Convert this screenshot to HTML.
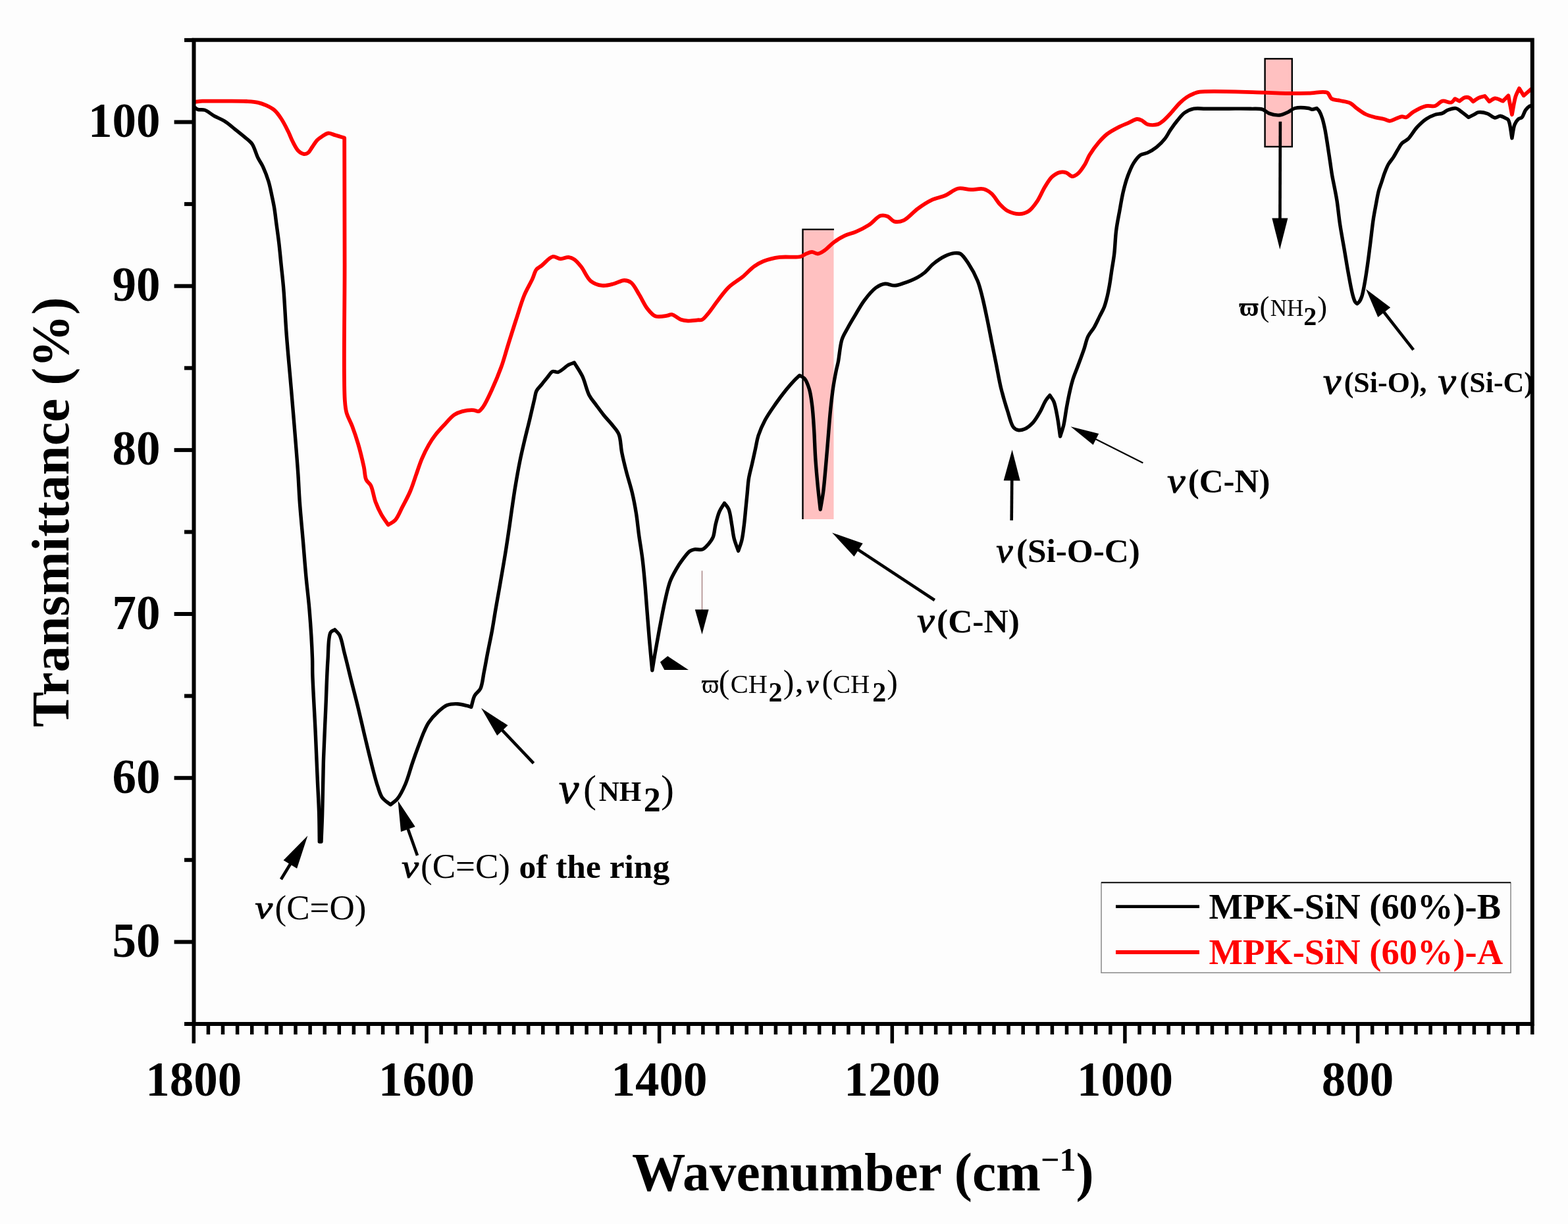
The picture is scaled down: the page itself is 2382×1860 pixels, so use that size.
<!DOCTYPE html><html><head><meta charset="utf-8"><title>FTIR spectrum</title>
<style>html,body{margin:0;padding:0;background:#fff;}body{width:2382px;height:1860px;overflow:hidden;}svg{display:block;}text{font-family:"Liberation Serif","Times New Roman",serif;}</style></head><body>
<svg width="2382" height="1860" viewBox="0 0 2382 1860">
<rect width="2382" height="1860" fill="#fdfdfd"/>
<rect x="1219.5" y="348.6" width="47" height="440.4" fill="#ffc1c1"/>
<path d="M1219.5,789 V348.6 H1267" fill="none" stroke="#000" stroke-width="2.4"/>
<rect x="1921.6" y="89.3" width="41.2" height="133.6" fill="#ffc1c1" stroke="#000" stroke-width="2.4"/>
<path d="M295.3,162.9 C297.1,164.1 298.4,165.6 300.6,166.4 C303.4,167.4 307.5,166.1 311.1,167.3 C315.6,168.8 320.3,173.4 325.2,176.1 C330.3,178.9 335.9,180.8 341.0,184.0 C346.5,187.4 351.4,191.9 356.9,196.3 C363.1,201.2 371.4,207.8 376.2,212.1 C379.2,214.8 381.1,215.9 383.3,219.2 C386.6,224.2 389.1,234.3 392.1,240.3 C394.4,245.0 396.8,247.8 399.1,252.6 C402.1,259.0 405.5,267.8 407.9,275.5 C410.2,283.1 411.7,291.3 413.2,298.4 C414.5,304.6 415.6,309.5 416.7,316.0 C418.0,323.9 419.0,333.6 420.2,342.4 C421.4,351.2 422.6,359.4 423.7,368.8 C425.0,379.7 426.1,392.3 427.3,404.0 C428.5,415.7 429.7,425.4 430.8,439.1 C432.4,458.2 433.5,485.7 435.2,508.0 C436.8,529.1 438.7,549.1 440.5,569.6 C442.3,590.1 444.0,608.8 445.8,631.2 C448.0,658.1 451.2,695.9 452.8,720.0 C453.9,736.5 454.1,746.4 455.2,761.6 C456.5,780.1 458.8,803.5 460.5,823.2 C462.0,841.5 463.3,858.4 464.9,876.0 C466.5,893.6 468.7,909.9 470.2,928.8 C472.0,950.7 473.9,982.5 474.5,1000.0 C474.9,1010.3 474.5,1013.8 474.8,1024.4 C475.4,1044.1 477.7,1081.6 479.0,1108.8 C480.2,1134.2 481.2,1160.1 482.2,1182.6 C483.0,1201.6 484.1,1218.3 484.6,1235.0 C485.1,1250.3 485.1,1264.3 485.3,1279.0 C486.2,1279.0 487.1,1279.0 488.0,1279.0 C488.5,1265.3 489.2,1252.5 489.6,1238.0 C490.1,1221.5 490.4,1200.7 490.8,1185.0 C491.1,1172.4 491.1,1164.5 491.6,1151.0 C492.3,1131.1 493.7,1101.6 494.8,1077.0 C495.9,1052.4 496.5,1024.4 498.0,1003.3 C499.1,987.3 498.3,967.6 502.2,961.1 C503.9,958.4 506.4,958.3 508.5,956.9 C511.0,959.7 513.8,961.4 515.9,965.3 C519.3,971.6 520.7,982.6 523.3,992.7 C526.6,1005.3 530.3,1020.9 533.8,1035.0 C537.3,1049.1 541.1,1063.3 544.4,1077.1 C547.6,1090.3 550.4,1102.9 553.5,1116.0 C556.7,1129.2 559.8,1142.8 563.2,1156.0 C566.5,1169.0 570.2,1184.4 573.7,1194.7 C576.1,1201.8 577.4,1207.5 580.8,1212.3 C584.0,1216.7 589.0,1219.3 593.1,1222.8 C596.6,1219.9 600.3,1218.0 603.6,1214.0 C608.1,1208.5 612.4,1199.6 616.0,1191.2 C620.1,1181.7 623.1,1169.4 626.5,1159.5 C629.5,1150.7 632.3,1142.8 635.3,1134.8 C638.2,1127.0 641.2,1118.6 644.1,1112.0 C646.5,1106.7 648.1,1102.5 651.2,1097.9 C654.8,1092.5 660.3,1086.5 665.2,1082.0 C669.7,1077.9 674.2,1073.5 679.3,1071.5 C684.2,1069.6 690.0,1069.5 695.1,1069.7 C699.9,1069.9 705.4,1071.4 709.2,1072.4 C711.8,1073.1 713.6,1073.8 715.8,1074.5 C717.6,1068.6 718.5,1061.8 721.1,1056.9 C723.4,1052.6 727.7,1050.9 729.9,1046.3 C732.9,1040.1 733.5,1030.2 735.2,1021.7 C737.0,1012.7 738.6,1003.5 740.5,993.6 C742.6,982.5 745.4,969.8 747.5,958.4 C749.5,947.6 751.0,937.1 752.8,926.7 C754.5,916.6 756.3,906.8 758.1,896.8 C759.8,886.8 761.6,877.0 763.3,866.9 C765.1,856.5 766.9,846.1 768.6,835.2 C770.4,823.8 772.3,810.7 773.9,800.0 C775.2,791.0 776.1,784.1 777.4,775.1 C779.0,764.4 780.7,752.0 782.7,740.0 C784.8,727.4 787.2,713.4 789.7,701.2 C791.9,690.1 794.3,680.2 796.8,669.6 C799.3,658.9 802.2,647.9 804.7,637.3 C807.2,626.9 810.0,614.4 811.9,606.5 C813.1,601.5 813.1,597.9 814.9,594.2 C816.8,590.4 820.4,587.4 823.1,584.0 C825.8,580.6 828.5,577.0 831.3,573.7 C834.0,570.5 836.5,565.7 839.6,564.5 C842.1,563.6 844.8,566.2 847.8,565.5 C852.5,564.3 859.5,556.6 864.2,554.2 C867.3,552.6 869.7,552.1 872.4,551.1 C876.5,558.0 881.1,564.1 884.7,571.7 C888.8,580.3 891.0,592.7 895.0,600.4 C898.1,606.3 901.6,609.9 905.2,614.8 C909.1,620.1 913.3,626.0 917.5,631.2 C921.5,636.2 926.1,640.6 929.9,645.5 C933.6,650.2 937.7,654.0 940.1,659.9 C943.1,667.3 942.8,677.9 944.6,687.2 C946.5,697.0 949.0,707.0 951.6,717.1 C954.3,727.5 957.9,738.2 960.4,748.8 C962.9,759.3 964.8,769.8 966.5,780.4 C968.2,791.1 969.1,801.8 970.6,812.8 C972.2,824.3 974.3,836.3 975.8,848.0 C977.3,859.7 978.3,870.8 979.4,883.2 C980.7,897.0 981.7,912.5 982.9,927.2 C984.1,941.9 985.1,956.3 986.4,971.2 C987.7,986.7 989.3,1002.9 990.8,1018.7 C992.3,1009.9 993.5,1001.9 995.2,992.3 C997.2,980.6 999.7,966.9 1002.2,953.6 C1004.9,939.4 1008.0,922.4 1011.0,909.6 C1013.3,899.6 1015.1,891.0 1018.1,883.2 C1020.6,876.6 1023.7,871.2 1026.9,865.6 C1030.1,860.1 1033.7,854.6 1037.4,849.7 C1040.8,845.2 1044.5,839.8 1048.0,837.4 C1050.4,835.8 1052.3,835.3 1055.0,834.8 C1058.5,834.2 1063.8,836.2 1067.3,834.8 C1070.8,833.5 1073.5,829.9 1076.1,826.9 C1078.8,823.8 1081.4,820.6 1083.2,816.3 C1085.4,811.1 1085.4,803.7 1087.0,797.3 C1088.6,790.7 1090.4,783.2 1092.9,777.4 C1095.0,772.5 1098.0,768.8 1100.5,764.5 C1102.7,767.6 1105.3,769.8 1107.0,773.8 C1109.5,779.7 1110.3,789.7 1111.7,797.3 C1113.0,804.5 1113.5,811.6 1115.2,818.4 C1116.8,824.9 1119.5,830.9 1121.6,837.2 C1123.4,831.7 1125.5,826.8 1126.9,820.8 C1128.6,813.7 1129.4,805.1 1130.4,797.3 C1131.4,789.5 1132.0,781.6 1132.8,773.8 C1133.6,766.0 1134.3,758.2 1135.1,750.4 C1135.9,742.6 1136.2,734.6 1137.5,726.9 C1138.7,719.4 1140.8,712.5 1142.5,705.0 C1144.3,696.9 1146.3,687.6 1148.0,680.0 C1149.4,673.5 1150.0,668.3 1152.0,662.0 C1154.4,654.6 1158.0,646.3 1162.2,638.5 C1166.6,630.2 1172.7,621.7 1178.1,613.9 C1183.3,606.5 1188.9,599.0 1193.9,592.8 C1198.2,587.5 1202.4,582.7 1206.2,578.7 C1209.2,575.5 1211.9,573.2 1214.7,570.5 C1217.1,572.0 1219.9,572.6 1222.0,575.0 C1225.1,578.5 1227.4,584.9 1229.3,591.0 C1231.6,598.3 1232.5,606.8 1233.7,616.0 C1235.1,627.0 1235.8,639.8 1236.6,652.6 C1237.5,666.6 1237.8,681.9 1238.8,696.6 C1239.8,711.3 1241.2,726.9 1242.5,740.6 C1243.7,752.6 1245.0,763.1 1246.2,774.3 C1247.7,765.5 1249.3,757.4 1250.6,747.9 C1252.1,736.7 1253.0,724.0 1254.2,711.2 C1255.5,697.2 1256.7,681.9 1257.9,667.3 C1259.1,652.6 1260.2,637.3 1261.6,623.3 C1262.9,610.5 1264.3,597.6 1266.0,586.6 C1267.4,577.6 1269.1,568.7 1270.5,562.0 C1271.5,557.3 1272.3,555.0 1273.3,550.0 C1275.0,541.6 1276.0,525.4 1279.0,516.0 C1281.3,508.8 1284.8,504.0 1288.0,498.0 C1291.3,491.9 1294.8,486.1 1298.7,479.7 C1303.0,472.5 1307.5,463.9 1312.8,456.8 C1318.1,449.8 1324.4,441.7 1330.4,437.4 C1335.0,434.1 1339.7,431.8 1344.5,431.3 C1349.1,430.8 1353.8,434.0 1358.5,433.9 C1363.2,433.8 1367.5,432.1 1372.6,430.4 C1379.0,428.3 1388.0,424.7 1393.7,421.6 C1398.0,419.3 1400.7,417.5 1404.3,414.5 C1408.8,410.8 1413.2,404.7 1418.4,400.5 C1423.7,396.2 1430.3,391.7 1436.0,389.0 C1440.8,386.7 1445.8,385.0 1450.0,384.6 C1453.2,384.3 1455.9,384.0 1458.8,385.5 C1463.1,387.8 1467.2,394.6 1471.2,400.5 C1476.1,407.9 1481.6,418.1 1485.2,426.9 C1488.5,435.1 1490.1,442.7 1492.3,451.5 C1494.8,461.4 1497.0,472.3 1499.3,483.2 C1501.7,494.6 1504.0,506.7 1506.3,518.4 C1508.7,530.1 1511.0,541.9 1513.4,553.6 C1515.7,565.3 1517.6,577.1 1520.4,588.8 C1523.3,600.7 1527.1,613.8 1530.6,624.5 C1533.5,633.5 1535.7,644.5 1539.4,649.1 C1541.5,651.7 1543.7,653.0 1546.4,653.5 C1549.5,654.1 1553.5,653.2 1557.0,651.7 C1561.2,649.9 1565.6,646.1 1569.3,642.1 C1573.3,637.7 1576.6,631.7 1579.8,626.2 C1583.0,620.6 1585.7,613.2 1588.6,608.6 C1590.7,605.3 1592.7,603.3 1594.8,600.7 C1596.8,603.9 1599.2,606.3 1600.9,610.4 C1603.3,616.3 1604.7,625.1 1606.2,633.3 C1608.0,642.6 1609.1,653.2 1610.6,663.2 C1612.4,657.3 1614.4,652.1 1615.9,645.6 C1617.7,637.7 1618.7,628.0 1620.3,619.2 C1621.9,610.4 1623.8,600.6 1625.6,592.8 C1627.0,586.5 1628.2,581.8 1630.0,576.0 C1632.0,569.6 1634.9,563.1 1637.5,556.0 C1640.5,547.9 1644.2,538.1 1646.9,530.1 C1649.2,523.4 1650.1,517.0 1652.8,511.4 C1655.3,506.2 1659.3,502.3 1662.2,497.3 C1665.2,492.1 1667.8,486.2 1670.4,480.9 C1672.8,476.0 1675.5,471.8 1677.4,466.8 C1679.4,461.6 1680.7,456.0 1682.1,450.4 C1683.5,444.7 1684.5,439.1 1685.6,432.8 C1686.9,425.5 1687.9,417.1 1689.1,409.3 C1690.3,401.5 1691.7,394.6 1692.7,385.9 C1694.0,375.2 1694.2,361.4 1695.7,350.0 C1697.0,339.5 1699.1,329.8 1700.9,320.0 C1702.6,310.5 1704.1,300.9 1706.2,291.9 C1708.2,283.4 1710.5,274.9 1713.3,267.3 C1715.9,260.4 1718.6,253.4 1722.1,247.9 C1725.2,243.1 1728.7,238.2 1732.6,235.6 C1735.8,233.4 1739.5,233.8 1743.2,232.1 C1747.7,230.0 1752.9,226.8 1757.3,223.3 C1761.8,219.7 1766.1,215.4 1769.6,210.9 C1773.1,206.6 1775.2,201.5 1778.4,196.9 C1781.7,192.1 1785.3,187.2 1788.9,182.8 C1792.3,178.7 1795.4,174.3 1799.5,171.4 C1803.6,168.5 1808.5,166.3 1813.6,165.2 C1819.0,164.1 1824.3,165.2 1831.2,165.2 C1840.9,165.2 1854.7,165.2 1866.3,165.2 C1877.6,165.2 1890.6,165.0 1900.0,165.3 C1906.8,165.5 1912.6,164.7 1917.6,166.2 C1921.8,167.4 1924.2,170.9 1928.2,172.4 C1932.8,174.1 1939.1,175.4 1944.0,175.0 C1948.4,174.6 1952.4,172.4 1956.3,170.6 C1960.0,168.9 1962.6,165.7 1966.9,164.5 C1972.6,163.0 1983.3,163.8 1988.0,164.5 C1990.4,164.9 1991.4,166.1 1993.3,166.2 C1995.5,166.3 1998.0,165.1 2000.3,164.5 C2001.6,165.9 2002.9,166.9 2004.1,168.8 C2005.8,171.6 2007.5,175.9 2008.8,180.0 C2010.3,184.6 2011.4,189.9 2012.5,195.0 C2013.6,200.2 2014.4,205.4 2015.3,211.0 C2016.3,217.0 2017.2,223.5 2018.2,229.8 C2019.1,236.0 2020.1,242.3 2021.0,248.5 C2021.9,254.8 2022.7,261.1 2023.8,267.3 C2024.9,273.6 2026.3,279.7 2027.5,286.0 C2028.7,292.3 2029.8,297.6 2031.0,305.0 C2032.6,315.3 2033.9,329.8 2035.8,342.2 C2037.7,354.6 2040.1,366.9 2042.2,379.2 C2044.3,391.5 2046.3,404.4 2048.5,416.2 C2050.5,427.2 2052.7,440.1 2054.8,447.8 C2056.0,452.4 2057.0,456.1 2058.5,458.5 C2059.5,460.0 2060.6,460.6 2061.7,461.6 C2062.8,460.6 2064.0,459.9 2065.0,458.5 C2066.4,456.6 2067.5,454.1 2068.6,451.0 C2070.3,446.2 2071.5,438.9 2072.8,432.0 C2074.3,423.9 2075.7,414.8 2077.0,405.6 C2078.5,395.5 2079.7,385.2 2081.2,373.9 C2082.9,360.8 2084.7,343.4 2086.5,331.7 C2087.8,323.3 2089.1,317.0 2090.4,310.0 C2091.6,303.4 2092.7,296.7 2094.2,290.8 C2095.5,285.7 2097.3,281.4 2098.8,276.7 C2100.4,272.0 2101.7,267.2 2103.5,262.6 C2105.2,258.1 2106.9,253.5 2109.2,249.5 C2111.4,245.7 2114.4,242.7 2116.7,239.1 C2119.0,235.5 2121.0,231.5 2123.2,227.9 C2125.4,224.4 2127.1,220.4 2129.8,217.6 C2132.4,214.9 2135.8,214.3 2138.9,211.3 C2143.3,207.1 2147.8,198.6 2152.6,193.4 C2157.0,188.7 2161.6,184.3 2166.4,181.0 C2170.8,178.0 2175.7,175.7 2180.1,174.2 C2183.9,172.9 2187.8,173.3 2191.1,172.1 C2194.1,171.0 2196.2,168.5 2199.3,167.3 C2202.9,165.9 2208.3,164.0 2211.7,164.6 C2214.4,165.0 2216.0,166.9 2218.6,168.7 C2222.2,171.1 2226.8,175.1 2230.9,178.3 C2233.7,176.9 2236.6,175.5 2239.2,174.2 C2241.6,173.0 2243.2,171.2 2246.0,170.7 C2249.7,170.1 2255.6,171.3 2259.8,172.8 C2263.8,174.2 2267.3,178.7 2270.8,179.0 C2273.7,179.3 2276.3,176.1 2279.0,176.2 C2281.8,176.3 2285.0,178.5 2287.2,179.7 C2288.9,180.6 2290.2,180.6 2291.4,182.4 C2294.3,186.6 2295.1,200.7 2296.9,209.9 C2298.3,203.0 2298.9,194.5 2301.0,189.3 C2302.5,185.7 2304.4,182.9 2306.5,181.0 C2308.2,179.5 2310.4,179.9 2312.0,178.3 C2314.3,176.0 2315.4,170.2 2317.5,167.3 C2319.2,165.0 2321.3,162.9 2323.0,161.8 C2324.1,161.1 2325.0,160.9 2326.0,160.5" fill="none" stroke="#000" stroke-width="5.4" stroke-linejoin="round" stroke-linecap="round"/>
<path d="M296.2,155.0 C300.0,154.6 303.0,154.0 307.6,153.7 C314.6,153.3 324.3,153.7 334.0,153.7 C346.1,153.7 363.8,153.4 374.5,154.0 C381.6,154.4 386.7,154.6 392.0,155.8 C396.6,156.8 400.4,158.3 404.4,160.2 C408.6,162.1 413.0,164.1 416.7,167.3 C420.7,170.8 424.0,175.5 427.3,180.5 C431.1,186.2 434.7,193.6 437.8,199.8 C440.5,205.3 442.2,210.7 444.9,215.7 C447.5,220.6 450.3,226.6 453.6,229.7 C456.0,232.0 459.1,233.8 461.6,234.1 C463.7,234.3 465.8,233.7 467.7,232.4 C470.3,230.6 472.4,225.9 474.8,222.7 C477.1,219.5 479.3,215.6 481.8,213.0 C484.0,210.8 486.2,209.4 488.8,207.7 C491.7,205.8 495.2,202.9 498.5,202.5 C501.7,202.1 505.1,204.2 508.2,205.1 C511.2,205.9 514.3,206.9 517.0,207.7 C519.2,208.4 521.1,208.9 523.2,209.5 C523.3,273.0 523.5,335.1 523.6,400.0 C523.7,467.7 521.6,575.1 523.8,607.5 C524.5,617.4 524.6,620.4 526.4,626.9 C528.3,633.9 532.4,640.5 535.2,648.0 C538.3,656.3 541.2,664.9 544.0,674.4 C547.2,685.2 550.6,699.6 552.8,709.6 C554.4,717.0 554.0,724.0 556.3,729.0 C558.0,732.7 561.3,733.8 563.3,737.7 C566.4,743.6 567.6,754.8 570.4,762.4 C573.0,769.3 575.9,775.7 579.2,781.7 C582.3,787.4 586.2,792.2 589.7,797.5 C593.2,795.2 597.1,793.9 600.3,790.5 C604.5,786.0 607.3,778.1 610.9,771.2 C614.9,763.5 619.7,754.8 623.2,746.5 C626.7,738.4 629.1,730.1 632.0,721.9 C634.9,713.7 637.5,705.1 640.8,697.3 C644.0,689.9 647.6,682.5 651.3,676.1 C654.6,670.3 657.9,665.4 661.9,660.3 C666.1,654.9 671.2,649.6 676.0,644.5 C680.6,639.6 685.1,633.7 690.0,630.4 C694.0,627.7 697.8,626.3 702.4,625.1 C707.7,623.7 715.5,623.0 720.0,623.3 C722.9,623.5 724.8,625.7 727.0,625.1 C729.5,624.4 731.6,621.4 734.0,618.1 C738.1,612.4 742.9,601.6 747.2,592.2 C752.1,581.5 757.4,568.9 761.6,557.3 C765.6,546.3 768.2,535.8 771.8,524.4 C775.7,512.0 779.9,498.3 784.1,485.5 C788.2,473.0 792.0,459.4 796.5,448.5 C800.3,439.3 805.5,431.1 808.8,423.9 C811.3,418.5 812.1,413.0 814.9,409.5 C817.1,406.6 819.9,405.9 823.1,403.4 C827.7,399.8 834.3,391.1 839.6,390.0 C843.7,389.2 847.5,393.3 851.5,393.4 C855.5,393.5 860.1,390.5 863.8,390.8 C867.0,391.1 869.7,392.3 872.6,394.3 C876.3,396.8 879.6,401.2 883.2,405.8 C887.8,411.6 891.5,422.2 897.3,426.9 C902.3,431.0 908.9,433.2 914.8,433.9 C920.6,434.6 926.7,432.7 932.4,431.3 C937.9,430.0 943.5,426.0 948.3,426.0 C952.2,426.0 955.5,427.0 958.8,429.5 C963.4,433.0 967.2,441.6 971.2,448.0 C975.4,454.7 978.9,463.4 983.5,469.1 C987.3,473.8 990.9,478.7 995.8,480.5 C1000.8,482.3 1008.9,480.4 1013.4,479.7 C1016.3,479.3 1017.7,477.6 1020.4,477.9 C1024.4,478.4 1030.0,484.2 1034.5,485.8 C1038.2,487.1 1041.3,487.4 1045.1,487.6 C1049.6,487.8 1056.1,486.6 1060.0,486.3 C1062.6,486.1 1064.3,486.9 1066.4,485.9 C1069.4,484.6 1072.0,480.8 1075.2,477.1 C1079.9,471.7 1085.6,462.8 1091.0,456.0 C1096.2,449.3 1100.8,442.4 1106.9,436.6 C1113.1,430.6 1121.4,426.2 1128.0,420.8 C1134.3,415.6 1139.8,409.0 1145.6,404.9 C1150.4,401.5 1154.2,399.2 1159.7,397.0 C1166.6,394.3 1175.5,392.1 1184.3,390.9 C1194.1,389.6 1208.8,391.8 1216.0,390.0 C1220.0,389.0 1221.8,386.8 1224.8,385.6 C1227.7,384.4 1230.7,382.9 1233.6,382.9 C1236.5,382.9 1239.4,385.9 1242.4,385.6 C1245.8,385.3 1249.3,382.7 1252.9,380.3 C1257.4,377.2 1262.0,371.7 1267.0,368.0 C1272.0,364.3 1277.2,360.9 1282.8,358.3 C1288.4,355.6 1294.5,354.7 1300.4,352.1 C1306.9,349.3 1313.8,345.9 1320.0,341.9 C1326.2,337.8 1332.2,329.5 1337.6,327.8 C1341.3,326.7 1344.8,327.4 1348.2,328.7 C1351.9,330.1 1354.7,335.5 1358.7,336.6 C1362.9,337.7 1367.9,336.9 1372.8,334.8 C1379.5,331.9 1386.7,322.5 1393.9,317.3 C1400.8,312.3 1407.8,307.5 1415.0,304.1 C1421.8,300.9 1429.3,299.9 1436.1,297.0 C1442.8,294.1 1448.8,287.9 1455.5,286.5 C1461.8,285.2 1468.4,288.1 1474.8,288.2 C1481.3,288.3 1488.6,285.9 1494.2,287.3 C1499.0,288.5 1502.7,291.1 1506.5,294.4 C1511.0,298.3 1514.4,305.6 1518.8,310.2 C1522.7,314.3 1526.4,318.3 1531.2,320.8 C1536.3,323.4 1543.3,325.4 1548.8,325.2 C1553.8,325.1 1558.6,323.5 1562.8,320.8 C1567.5,317.7 1571.3,312.2 1575.1,306.7 C1579.6,300.2 1583.3,290.5 1587.5,283.8 C1591.0,278.2 1593.9,272.7 1598.0,268.9 C1601.6,265.6 1606.3,262.7 1610.3,261.8 C1613.6,261.0 1617.0,261.5 1620.0,262.5 C1623.1,263.5 1625.8,267.9 1628.8,268.1 C1631.7,268.2 1634.8,266.0 1637.6,263.7 C1641.4,260.6 1645.2,254.5 1648.2,249.7 C1651.0,245.1 1652.2,240.5 1655.2,235.6 C1658.9,229.5 1664.5,221.8 1669.3,216.2 C1673.4,211.5 1676.9,207.6 1681.6,203.9 C1686.7,199.9 1693.4,196.3 1699.2,193.3 C1704.5,190.5 1710.1,188.5 1715.0,186.3 C1719.4,184.4 1723.7,181.3 1727.3,181.0 C1729.9,180.8 1732.0,181.7 1734.4,182.8 C1737.3,184.1 1739.6,187.8 1743.2,188.9 C1747.5,190.3 1754.9,190.1 1759.0,188.9 C1762.0,188.0 1763.5,186.5 1766.0,184.5 C1769.7,181.6 1774.2,176.6 1778.4,172.2 C1783.0,167.3 1787.9,160.8 1792.4,156.4 C1796.0,152.9 1799.3,150.0 1803.0,147.6 C1806.4,145.4 1810.2,143.7 1813.6,142.3 C1816.6,141.1 1817.8,140.3 1822.4,139.7 C1837.4,137.6 1898.4,140.1 1920.0,140.6 C1930.7,140.9 1934.8,141.4 1944.0,141.6 C1956.5,141.9 1975.0,141.8 1988.0,141.6 C1998.4,141.4 2010.3,137.9 2016.1,140.7 C2019.8,142.5 2019.8,148.0 2022.8,150.0 C2026.0,152.1 2030.7,151.8 2035.0,152.8 C2040.0,154.0 2046.6,154.4 2051.0,156.6 C2054.8,158.4 2056.9,161.5 2060.4,164.1 C2064.6,167.1 2069.6,171.1 2074.5,173.5 C2079.0,175.7 2083.8,176.9 2088.5,178.2 C2093.2,179.4 2098.5,179.9 2102.6,181.0 C2105.8,181.8 2108.1,183.8 2111.0,183.8 C2114.3,183.8 2118.1,181.1 2121.4,180.0 C2124.3,179.0 2127.2,177.4 2129.8,177.2 C2132.1,177.0 2133.9,178.9 2136.2,178.3 C2139.5,177.5 2142.8,172.6 2147.1,170.0 C2152.5,166.8 2160.4,162.4 2166.4,161.1 C2171.2,160.0 2176.0,162.4 2180.1,161.1 C2184.2,159.8 2187.0,154.5 2191.1,153.6 C2195.2,152.6 2201.4,156.7 2204.8,155.6 C2207.3,154.8 2208.5,151.9 2210.3,150.1 C2212.6,151.3 2214.9,152.4 2217.2,153.6 C2219.9,151.8 2222.7,148.8 2225.4,148.1 C2227.7,147.5 2230.3,147.8 2232.3,148.8 C2234.4,149.8 2236.0,152.5 2237.8,154.3 C2240.5,152.5 2243.0,150.2 2246.0,148.8 C2249.0,147.4 2252.5,146.9 2255.7,146.0 C2258.0,148.8 2260.2,151.5 2262.5,154.3 C2265.3,152.7 2267.7,149.8 2270.8,149.5 C2274.4,149.1 2279.0,152.2 2283.1,153.6 C2285.9,150.8 2288.6,148.1 2291.4,145.3 C2293.2,154.9 2295.1,164.6 2296.9,174.2 C2298.7,165.0 2300.1,154.0 2302.4,146.7 C2304.0,141.6 2306.1,138.4 2307.9,134.3 C2310.2,138.0 2312.4,141.6 2314.7,145.3 C2318.5,142.0 2322.2,138.8 2326.0,135.5" fill="none" stroke="#ff0000" stroke-width="5.8" stroke-linejoin="round" stroke-linecap="round"/>
<rect x="294.5" y="60.7" width="2033.3" height="1495.3" fill="none" stroke="#000" stroke-width="6"/>
<line x1="280" y1="1556.0" x2="294.5" y2="1556.0" stroke="#000" stroke-width="6"/>
<line x1="264.6" y1="1431.4" x2="294.5" y2="1431.4" stroke="#000" stroke-width="6"/>
<line x1="280" y1="1306.8" x2="294.5" y2="1306.8" stroke="#000" stroke-width="6"/>
<line x1="264.6" y1="1182.2" x2="294.5" y2="1182.2" stroke="#000" stroke-width="6"/>
<line x1="280" y1="1057.6" x2="294.5" y2="1057.6" stroke="#000" stroke-width="6"/>
<line x1="264.6" y1="933.0" x2="294.5" y2="933.0" stroke="#000" stroke-width="6"/>
<line x1="280" y1="808.4" x2="294.5" y2="808.4" stroke="#000" stroke-width="6"/>
<line x1="264.6" y1="683.9" x2="294.5" y2="683.9" stroke="#000" stroke-width="6"/>
<line x1="280" y1="559.3" x2="294.5" y2="559.3" stroke="#000" stroke-width="6"/>
<line x1="264.6" y1="434.7" x2="294.5" y2="434.7" stroke="#000" stroke-width="6"/>
<line x1="280" y1="310.1" x2="294.5" y2="310.1" stroke="#000" stroke-width="6"/>
<line x1="264.6" y1="185.5" x2="294.5" y2="185.5" stroke="#000" stroke-width="6"/>
<line x1="280" y1="60.9" x2="294.5" y2="60.9" stroke="#000" stroke-width="6"/>
<line x1="294.3" y1="1556.0" x2="294.3" y2="1585.5" stroke="#000" stroke-width="5.5"/>
<line x1="316.4" y1="1556.0" x2="316.4" y2="1572" stroke="#000" stroke-width="5.5"/>
<line x1="338.5" y1="1556.0" x2="338.5" y2="1572" stroke="#000" stroke-width="5.5"/>
<line x1="360.6" y1="1556.0" x2="360.6" y2="1572" stroke="#000" stroke-width="5.5"/>
<line x1="382.7" y1="1556.0" x2="382.7" y2="1572" stroke="#000" stroke-width="5.5"/>
<line x1="404.8" y1="1556.0" x2="404.8" y2="1572" stroke="#000" stroke-width="5.5"/>
<line x1="426.9" y1="1556.0" x2="426.9" y2="1572" stroke="#000" stroke-width="5.5"/>
<line x1="449.0" y1="1556.0" x2="449.0" y2="1572" stroke="#000" stroke-width="5.5"/>
<line x1="471.1" y1="1556.0" x2="471.1" y2="1572" stroke="#000" stroke-width="5.5"/>
<line x1="493.2" y1="1556.0" x2="493.2" y2="1572" stroke="#000" stroke-width="5.5"/>
<line x1="515.3" y1="1556.0" x2="515.3" y2="1572" stroke="#000" stroke-width="5.5"/>
<line x1="537.4" y1="1556.0" x2="537.4" y2="1572" stroke="#000" stroke-width="5.5"/>
<line x1="559.5" y1="1556.0" x2="559.5" y2="1572" stroke="#000" stroke-width="5.5"/>
<line x1="581.6" y1="1556.0" x2="581.6" y2="1572" stroke="#000" stroke-width="5.5"/>
<line x1="603.7" y1="1556.0" x2="603.7" y2="1572" stroke="#000" stroke-width="5.5"/>
<line x1="625.8" y1="1556.0" x2="625.8" y2="1572" stroke="#000" stroke-width="5.5"/>
<line x1="648.0" y1="1556.0" x2="648.0" y2="1585.5" stroke="#000" stroke-width="5.5"/>
<line x1="670.1" y1="1556.0" x2="670.1" y2="1572" stroke="#000" stroke-width="5.5"/>
<line x1="692.2" y1="1556.0" x2="692.2" y2="1572" stroke="#000" stroke-width="5.5"/>
<line x1="714.3" y1="1556.0" x2="714.3" y2="1572" stroke="#000" stroke-width="5.5"/>
<line x1="736.4" y1="1556.0" x2="736.4" y2="1572" stroke="#000" stroke-width="5.5"/>
<line x1="758.5" y1="1556.0" x2="758.5" y2="1572" stroke="#000" stroke-width="5.5"/>
<line x1="780.6" y1="1556.0" x2="780.6" y2="1572" stroke="#000" stroke-width="5.5"/>
<line x1="802.7" y1="1556.0" x2="802.7" y2="1572" stroke="#000" stroke-width="5.5"/>
<line x1="824.8" y1="1556.0" x2="824.8" y2="1572" stroke="#000" stroke-width="5.5"/>
<line x1="846.9" y1="1556.0" x2="846.9" y2="1572" stroke="#000" stroke-width="5.5"/>
<line x1="869.0" y1="1556.0" x2="869.0" y2="1572" stroke="#000" stroke-width="5.5"/>
<line x1="891.1" y1="1556.0" x2="891.1" y2="1572" stroke="#000" stroke-width="5.5"/>
<line x1="913.2" y1="1556.0" x2="913.2" y2="1572" stroke="#000" stroke-width="5.5"/>
<line x1="935.3" y1="1556.0" x2="935.3" y2="1572" stroke="#000" stroke-width="5.5"/>
<line x1="957.4" y1="1556.0" x2="957.4" y2="1572" stroke="#000" stroke-width="5.5"/>
<line x1="979.5" y1="1556.0" x2="979.5" y2="1572" stroke="#000" stroke-width="5.5"/>
<line x1="1001.6" y1="1556.0" x2="1001.6" y2="1585.5" stroke="#000" stroke-width="5.5"/>
<line x1="1023.7" y1="1556.0" x2="1023.7" y2="1572" stroke="#000" stroke-width="5.5"/>
<line x1="1045.8" y1="1556.0" x2="1045.8" y2="1572" stroke="#000" stroke-width="5.5"/>
<line x1="1067.9" y1="1556.0" x2="1067.9" y2="1572" stroke="#000" stroke-width="5.5"/>
<line x1="1090.0" y1="1556.0" x2="1090.0" y2="1572" stroke="#000" stroke-width="5.5"/>
<line x1="1112.1" y1="1556.0" x2="1112.1" y2="1572" stroke="#000" stroke-width="5.5"/>
<line x1="1134.2" y1="1556.0" x2="1134.2" y2="1572" stroke="#000" stroke-width="5.5"/>
<line x1="1156.3" y1="1556.0" x2="1156.3" y2="1572" stroke="#000" stroke-width="5.5"/>
<line x1="1178.4" y1="1556.0" x2="1178.4" y2="1572" stroke="#000" stroke-width="5.5"/>
<line x1="1200.5" y1="1556.0" x2="1200.5" y2="1572" stroke="#000" stroke-width="5.5"/>
<line x1="1222.6" y1="1556.0" x2="1222.6" y2="1572" stroke="#000" stroke-width="5.5"/>
<line x1="1244.7" y1="1556.0" x2="1244.7" y2="1572" stroke="#000" stroke-width="5.5"/>
<line x1="1266.8" y1="1556.0" x2="1266.8" y2="1572" stroke="#000" stroke-width="5.5"/>
<line x1="1288.9" y1="1556.0" x2="1288.9" y2="1572" stroke="#000" stroke-width="5.5"/>
<line x1="1311.0" y1="1556.0" x2="1311.0" y2="1572" stroke="#000" stroke-width="5.5"/>
<line x1="1333.2" y1="1556.0" x2="1333.2" y2="1572" stroke="#000" stroke-width="5.5"/>
<line x1="1355.3" y1="1556.0" x2="1355.3" y2="1585.5" stroke="#000" stroke-width="5.5"/>
<line x1="1377.4" y1="1556.0" x2="1377.4" y2="1572" stroke="#000" stroke-width="5.5"/>
<line x1="1399.5" y1="1556.0" x2="1399.5" y2="1572" stroke="#000" stroke-width="5.5"/>
<line x1="1421.6" y1="1556.0" x2="1421.6" y2="1572" stroke="#000" stroke-width="5.5"/>
<line x1="1443.7" y1="1556.0" x2="1443.7" y2="1572" stroke="#000" stroke-width="5.5"/>
<line x1="1465.8" y1="1556.0" x2="1465.8" y2="1572" stroke="#000" stroke-width="5.5"/>
<line x1="1487.9" y1="1556.0" x2="1487.9" y2="1572" stroke="#000" stroke-width="5.5"/>
<line x1="1510.0" y1="1556.0" x2="1510.0" y2="1572" stroke="#000" stroke-width="5.5"/>
<line x1="1532.1" y1="1556.0" x2="1532.1" y2="1572" stroke="#000" stroke-width="5.5"/>
<line x1="1554.2" y1="1556.0" x2="1554.2" y2="1572" stroke="#000" stroke-width="5.5"/>
<line x1="1576.3" y1="1556.0" x2="1576.3" y2="1572" stroke="#000" stroke-width="5.5"/>
<line x1="1598.4" y1="1556.0" x2="1598.4" y2="1572" stroke="#000" stroke-width="5.5"/>
<line x1="1620.5" y1="1556.0" x2="1620.5" y2="1572" stroke="#000" stroke-width="5.5"/>
<line x1="1642.6" y1="1556.0" x2="1642.6" y2="1572" stroke="#000" stroke-width="5.5"/>
<line x1="1664.7" y1="1556.0" x2="1664.7" y2="1572" stroke="#000" stroke-width="5.5"/>
<line x1="1686.8" y1="1556.0" x2="1686.8" y2="1572" stroke="#000" stroke-width="5.5"/>
<line x1="1708.9" y1="1556.0" x2="1708.9" y2="1585.5" stroke="#000" stroke-width="5.5"/>
<line x1="1731.0" y1="1556.0" x2="1731.0" y2="1572" stroke="#000" stroke-width="5.5"/>
<line x1="1753.1" y1="1556.0" x2="1753.1" y2="1572" stroke="#000" stroke-width="5.5"/>
<line x1="1775.2" y1="1556.0" x2="1775.2" y2="1572" stroke="#000" stroke-width="5.5"/>
<line x1="1797.3" y1="1556.0" x2="1797.3" y2="1572" stroke="#000" stroke-width="5.5"/>
<line x1="1819.4" y1="1556.0" x2="1819.4" y2="1572" stroke="#000" stroke-width="5.5"/>
<line x1="1841.5" y1="1556.0" x2="1841.5" y2="1572" stroke="#000" stroke-width="5.5"/>
<line x1="1863.6" y1="1556.0" x2="1863.6" y2="1572" stroke="#000" stroke-width="5.5"/>
<line x1="1885.7" y1="1556.0" x2="1885.7" y2="1572" stroke="#000" stroke-width="5.5"/>
<line x1="1907.8" y1="1556.0" x2="1907.8" y2="1572" stroke="#000" stroke-width="5.5"/>
<line x1="1929.9" y1="1556.0" x2="1929.9" y2="1572" stroke="#000" stroke-width="5.5"/>
<line x1="1952.0" y1="1556.0" x2="1952.0" y2="1572" stroke="#000" stroke-width="5.5"/>
<line x1="1974.1" y1="1556.0" x2="1974.1" y2="1572" stroke="#000" stroke-width="5.5"/>
<line x1="1996.3" y1="1556.0" x2="1996.3" y2="1572" stroke="#000" stroke-width="5.5"/>
<line x1="2018.4" y1="1556.0" x2="2018.4" y2="1572" stroke="#000" stroke-width="5.5"/>
<line x1="2040.5" y1="1556.0" x2="2040.5" y2="1572" stroke="#000" stroke-width="5.5"/>
<line x1="2062.6" y1="1556.0" x2="2062.6" y2="1585.5" stroke="#000" stroke-width="5.5"/>
<line x1="2084.7" y1="1556.0" x2="2084.7" y2="1572" stroke="#000" stroke-width="5.5"/>
<line x1="2106.8" y1="1556.0" x2="2106.8" y2="1572" stroke="#000" stroke-width="5.5"/>
<line x1="2128.9" y1="1556.0" x2="2128.9" y2="1572" stroke="#000" stroke-width="5.5"/>
<line x1="2151.0" y1="1556.0" x2="2151.0" y2="1572" stroke="#000" stroke-width="5.5"/>
<line x1="2173.1" y1="1556.0" x2="2173.1" y2="1572" stroke="#000" stroke-width="5.5"/>
<line x1="2195.2" y1="1556.0" x2="2195.2" y2="1572" stroke="#000" stroke-width="5.5"/>
<line x1="2217.3" y1="1556.0" x2="2217.3" y2="1572" stroke="#000" stroke-width="5.5"/>
<line x1="2239.4" y1="1556.0" x2="2239.4" y2="1572" stroke="#000" stroke-width="5.5"/>
<line x1="2261.5" y1="1556.0" x2="2261.5" y2="1572" stroke="#000" stroke-width="5.5"/>
<line x1="2283.6" y1="1556.0" x2="2283.6" y2="1572" stroke="#000" stroke-width="5.5"/>
<line x1="2305.7" y1="1556.0" x2="2305.7" y2="1572" stroke="#000" stroke-width="5.5"/>
<line x1="2327.8" y1="1556.0" x2="2327.8" y2="1572" stroke="#000" stroke-width="5.5"/>
<text x="243.5" y="1453.9" font-size="73" font-weight="bold" text-anchor="end">50</text>
<text x="243.5" y="1204.7" font-size="73" font-weight="bold" text-anchor="end">60</text>
<text x="243.5" y="955.5" font-size="73" font-weight="bold" text-anchor="end">70</text>
<text x="243.5" y="706.4" font-size="73" font-weight="bold" text-anchor="end">80</text>
<text x="243.5" y="457.2" font-size="73" font-weight="bold" text-anchor="end">90</text>
<text x="243.5" y="208.0" font-size="73" font-weight="bold" text-anchor="end">100</text>
<text x="2062.6" y="1664.5" font-size="73" font-weight="bold" text-anchor="middle">800</text>
<text x="1708.9" y="1664.5" font-size="73" font-weight="bold" text-anchor="middle">1000</text>
<text x="1355.3" y="1664.5" font-size="73" font-weight="bold" text-anchor="middle">1200</text>
<text x="1001.6" y="1664.5" font-size="73" font-weight="bold" text-anchor="middle">1400</text>
<text x="648.0" y="1664.5" font-size="73" font-weight="bold" text-anchor="middle">1600</text>
<text x="294.3" y="1664.5" font-size="73" font-weight="bold" text-anchor="middle">1800</text>
<text x="960" y="1809" font-size="81.5" font-weight="bold">Wavenumber (cm<tspan dy="-30" font-size="50">−</tspan><tspan font-size="50">1</tspan><tspan dy="30">)</tspan></text>
<text transform="translate(104,1105) rotate(-90)" x="0" y="0" font-size="80.5" font-weight="bold">Transmittance (%)</text>
<rect x="1673" y="1341.2" width="622" height="137" fill="none" stroke="#888" stroke-width="1.5"/>
<line x1="1673" y1="1341.2" x2="2295" y2="1341.2" stroke="#222" stroke-width="2.2"/>
<line x1="1695" y1="1377.6" x2="1822" y2="1377.6" stroke="#000" stroke-width="4.6"/>
<line x1="1695" y1="1447" x2="1822" y2="1447" stroke="#ff0000" stroke-width="6"/>
<text x="417.6" y="1396.6" font-size="53.0">(C=O)</text>
<text x="639.0" y="1334.0" font-size="53.0">(C=C)</text>
<text x="788.4" y="1334.0" font-size="51.5" font-weight="bold">of the ring</text>
<text x="885.9" y="1219.0" font-size="60.0">(</text>
<text x="909.7" y="1217.2" font-size="43.0" font-weight="bold">NH</text>
<text x="977.8" y="1233.2" font-size="52.0" font-weight="bold">2</text>
<text x="1003.9" y="1219.0" font-size="60.0">)</text>
<text x="1066.1" y="1053.2" font-size="40.0">ϖ</text>
<text x="1091.8" y="1053.2" font-size="50.0">(</text>
<text x="1109.8" y="1053.2" font-size="40.5">CH</text>
<text x="1167.6" y="1066.4" font-size="42.0" font-weight="bold">2</text>
<text x="1189.8" y="1053.2" font-size="50.0">)</text>
<text x="1209.0" y="1053.2" font-size="40.0" font-weight="bold">,</text>
<text x="1248.5" y="1053.2" font-size="50.0">(</text>
<text x="1265.1" y="1053.2" font-size="40.5">CH</text>
<text x="1325.2" y="1066.4" font-size="42.0" font-weight="bold">2</text>
<text x="1347.3" y="1053.2" font-size="50.0">)</text>
<text x="1423.0" y="960.8" font-size="51.5" font-weight="bold">(C-N)</text>
<text x="1543.9" y="853.8" font-size="51.3" font-weight="bold">(Si-O-C)</text>
<text x="1804.8" y="748.1" font-size="51.0" font-weight="bold">(C-N)</text>
<text x="1882.5" y="480.3" font-size="41.0" font-weight="bold">ϖ</text>
<text x="1913.4" y="481.0" font-size="44.5">(</text>
<text x="1929.8" y="480.3" font-size="35.0">NH</text>
<text x="1980.3" y="494.2" font-size="40.0" font-weight="bold">2</text>
<text x="2001.2" y="481.0" font-size="44.5">)</text>
<text x="2041.7" y="595.9" font-size="44.0" font-weight="bold">(Si-O),</text>
<text x="2217.6" y="595.9" font-size="44.0" font-weight="bold">(Si-C)</text>
<text transform="translate(387.4,1396.1) scale(1.196,1)" font-size="50.1" font-style="italic" stroke="#000" stroke-width="1.10">ν</text>
<text transform="translate(610.3,1333.5) scale(1.140,1)" font-size="50.8" font-style="italic" stroke="#000" stroke-width="1.10">ν</text>
<text transform="translate(849.1,1219.8) scale(1.027,1)" font-size="66.6" font-style="italic" stroke="#000" stroke-width="1.10">ν</text>
<text transform="translate(1225.2,1052.6) scale(1.060,1)" font-size="38.6" font-style="italic" stroke="#000" stroke-width="1.10">ν</text>
<text transform="translate(1393.2,960.3) scale(1.125,1)" font-size="52.9" font-style="italic" stroke="#000" stroke-width="1.10">ν</text>
<text transform="translate(1513.5,853.9) scale(1.068,1)" font-size="52.7" font-style="italic" stroke="#000" stroke-width="1.10">ν</text>
<text transform="translate(1773.2,748.0) scale(1.165,1)" font-size="52.7" font-style="italic" stroke="#000" stroke-width="1.10">ν</text>
<text transform="translate(2010.1,597.7) scale(1.090,1)" font-size="56.5" font-style="italic" stroke="#000" stroke-width="1.10">ν</text>
<text transform="translate(2184.4,597.7) scale(1.090,1)" font-size="56.5" font-style="italic" stroke="#000" stroke-width="1.10">ν</text>
<rect x="1066.3" y="1034.3" width="24.6" height="2.6" fill="#000"/>
<rect x="1882.6" y="461.4" width="29" height="2.6" fill="#000"/>
<text x="1836.6" y="1395.7" font-size="54.5" font-weight="bold">MPK-SiN (60%)-B</text>
<text x="1836.6" y="1464.8" font-size="54.5" font-weight="bold" fill="#ff0000">MPK-SiN (60%)-A</text>
<line x1="426.9" y1="1336.2" x2="451.4" y2="1296.0" stroke="#000" stroke-width="4.6"/><polygon points="467.4,1269.9 451.1,1319.7 430.6,1307.2" fill="#000"/>
<line x1="634.0" y1="1300.0" x2="613.7" y2="1242.7" stroke="#000" stroke-width="4.6"/><polygon points="604.5,1216.7 630.7,1256.2 609.0,1263.9" fill="#000"/>
<line x1="810.6" y1="1159.8" x2="750.4" y2="1096.4" stroke="#000" stroke-width="4.6"/><polygon points="731.0,1075.9 771.5,1102.3 755.2,1117.7" fill="#000"/>
<polygon points="1002.9,1006 1014.3,997 1046,1018 1009.3,1018" fill="#000"/>
<line x1="1066.5" y1="867.3" x2="1066.5" y2="930" stroke="#9a7070" stroke-width="1.2"/>
<polygon points="1066.5,964.1 1055.8,926.3 1076.6,926.3" fill="#000"/>
<line x1="1419.8" y1="912.0" x2="1288.1" y2="825.2" stroke="#000" stroke-width="4.6"/><polygon points="1264.0,809.4 1310.7,825.8 1297.5,845.8" fill="#000"/>
<line x1="1536.7" y1="790.8" x2="1537.4" y2="711.6" stroke="#000" stroke-width="4.6"/><polygon points="1537.6,683.4 1549.7,730.5 1524.7,730.3" fill="#000"/>
<line x1="1736.4" y1="703.6" x2="1649.5" y2="659.8" stroke="#000" stroke-width="2.2"/><polygon points="1626.5,648.2 1669.2,659.1 1660.6,676.0" fill="#000"/>
<line x1="1944.9" y1="184.7" x2="1944.4" y2="350.6" stroke="#000" stroke-width="4.6"/><polygon points="1944.3,379.1 1932.4,331.6 1956.4,331.6" fill="#000"/>
<line x1="2147.2" y1="531.6" x2="2091.6" y2="460.5" stroke="#000" stroke-width="4.6"/><polygon points="2075.0,439.2 2112.2,467.3 2093.3,482.0" fill="#000"/>
</svg></body></html>
